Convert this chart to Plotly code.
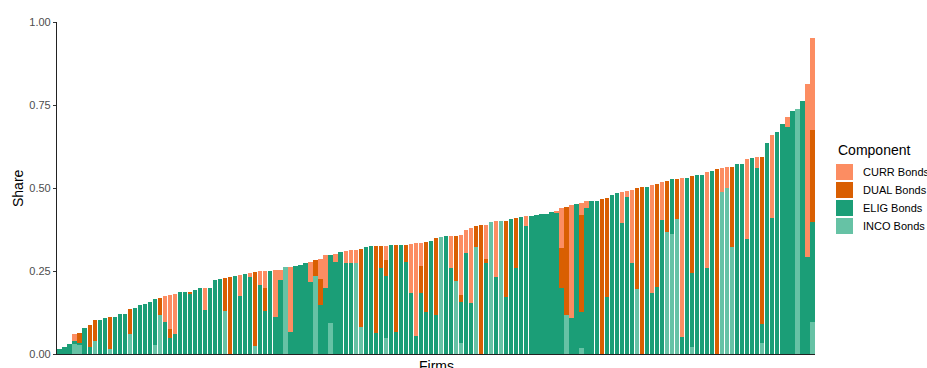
import plotly.graph_objects as go

# Component shares per firm (stack order bottom -> top: INCO, ELIG, DUAL, CURR)
INCO = [0, 0, 0, 0.03, 0.03, 0, 0, 0.04, 0, 0,
        0.015, 0, 0, 0, 0.06, 0, 0, 0, 0, 0.027,
        0.117, 0, 0, 0, 0, 0, 0, 0, 0, 0,
        0, 0, 0, 0.13, 0, 0, 0, 0, 0, 0.025,
        0, 0, 0, 0, 0, 0.261, 0, 0, 0, 0,
        0, 0.236, 0, 0, 0.094, 0, 0, 0, 0, 0.273,
        0.082, 0, 0, 0, 0, 0.047, 0, 0, 0, 0,
        0, 0, 0, 0, 0, 0, 0.351, 0, 0, 0.22,
        0.032, 0, 0, 0.323, 0, 0, 0.399, 0, 0.401, 0,
        0, 0, 0, 0, 0, 0, 0, 0, 0, 0,
        0, 0.117, 0, 0, 0.017, 0, 0, 0, 0, 0,
        0, 0, 0, 0, 0, 0.195, 0, 0, 0, 0,
        0, 0.368, 0.36, 0.407, 0, 0, 0.022, 0, 0, 0,
        0, 0, 0.487, 0.499, 0.321, 0, 0, 0, 0, 0,
        0.032, 0, 0, 0, 0, 0, 0, 0.737, 0, 0,
        0.097]
ELIG = [0.014, 0.02, 0.03, 0.01, 0.004, 0.077, 0.022, 0, 0.102, 0.107,
        0, 0.112, 0.12, 0.122, 0, 0.14, 0.147, 0.15, 0.158, 0.138,
        0, 0.095, 0.047, 0.06, 0.186, 0.186, 0.18, 0.193, 0.198, 0.132,
        0.2, 0.223, 0.226, 0, 0, 0.236, 0.176, 0.24, 0.233, 0,
        0.208, 0.13, 0.251, 0.112, 0.223, 0, 0.067, 0.265, 0.268, 0.273,
        0.216, 0, 0.148, 0.2, 0.204, 0.278, 0.308, 0.273, 0.273, 0,
        0, 0.323, 0.325, 0.062, 0.258, 0.188, 0.328, 0.067, 0.328, 0.278,
        0.183, 0.054, 0.183, 0.128, 0.341, 0.117, 0, 0.355, 0.258, 0,
        0.126, 0.305, 0.155, 0, 0, 0.273, 0, 0.233, 0, 0.173,
        0.406, 0.258, 0.412, 0.387, 0.417, 0.418, 0.421, 0.422, 0.429, 0.424,
        0.198, 0, 0.107, 0.452, 0.111, 0.44, 0.46, 0.462, 0, 0.173,
        0.479, 0.484, 0.394, 0.474, 0.275, 0, 0, 0.504, 0.183, 0.203,
        0.404, 0, 0.166, 0, 0.052, 0.531, 0.221, 0.539, 0.539, 0.26,
        0.551, 0, 0, 0, 0, 0.571, 0.571, 0.345, 0.591, 0.559,
        0.058, 0.636, 0.411, 0.669, 0.693, 0.685, 0.733, 0, 0.762, 0.291,
        0.302]
DUAL = [0, 0, 0, 0, 0.028, 0, 0.065, 0.062, 0, 0,
        0.095, 0, 0, 0, 0.075, 0, 0, 0, 0, 0,
        0.052, 0, 0.028, 0, 0, 0, 0.007, 0, 0, 0,
        0, 0, 0, 0.1, 0.233, 0, 0, 0, 0, 0.221,
        0, 0.07, 0, 0, 0, 0, 0, 0, 0, 0,
        0, 0.047, 0.078, 0, 0, 0, 0, 0, 0, 0,
        0.233, 0, 0, 0.263, 0.067, 0.048, 0, 0.261, 0, 0.05,
        0, 0, 0.082, 0.21, 0, 0.231, 0, 0, 0, 0.136,
        0.02, 0, 0, 0.063, 0.388, 0.012, 0, 0, 0, 0.229,
        0, 0.151, 0, 0, 0, 0, 0, 0, 0, 0,
        0.12, 0.327, 0, 0, 0.291, 0, 0, 0, 0.466, 0.298,
        0, 0, 0, 0, 0, 0.304, 0.502, 0, 0, 0.308,
        0, 0.154, 0, 0.119, 0, 0, 0.293, 0, 0, 0,
        0, 0.556, 0, 0, 0.243, 0, 0, 0, 0, 0,
        0.504, 0, 0, 0, 0, 0, 0, 0, 0, 0,
        0.276]
CURR = [0, 0, 0, 0.02, 0, 0, 0, 0, 0, 0,
        0, 0, 0, 0, 0, 0, 0, 0, 0, 0,
        0, 0.08, 0.103, 0.121, 0, 0, 0, 0, 0, 0.068,
        0, 0, 0, 0, 0, 0, 0.062, 0, 0.01, 0,
        0.041, 0.05, 0, 0.141, 0.03, 0, 0.194, 0, 0, 0,
        0.06, 0, 0.06, 0.098, 0, 0.023, 0, 0.038, 0.04, 0.04,
        0, 0, 0, 0, 0, 0.042, 0, 0, 0, 0,
        0.148, 0.279, 0.07, 0, 0, 0, 0, 0, 0.097, 0,
        0.18, 0.07, 0.224, 0, 0, 0.103, 0, 0.167, 0, 0,
        0, 0, 0, 0.03, 0, 0, 0, 0, 0, 0.007,
        0.121, 0, 0.342, 0, 0.037, 0.02, 0, 0, 0, 0,
        0, 0, 0.095, 0.017, 0.219, 0, 0, 0, 0.326, 0,
        0.115, 0, 0, 0, 0.479, 0, 0, 0, 0, 0.287,
        0, 0, 0.074, 0.065, 0, 0, 0, 0.241, 0, 0.033,
        0, 0, 0.249, 0, 0, 0.028, 0, 0, 0, 0.521,
        0.278]

firms = list(range(1, len(ELIG) + 1))

components = ["CURR Bonds", "DUAL Bonds", "ELIG Bonds", "INCO Bonds"]
colors = {"CURR Bonds": "#FC8D62", "DUAL Bonds": "#D95F02",
          "ELIG Bonds": "#1B9E77", "INCO Bonds": "#66C2A5"}
series = {"INCO Bonds": INCO, "ELIG Bonds": ELIG, "DUAL Bonds": DUAL, "CURR Bonds": CURR}

y_ticks = [0, 0.25, 0.5, 0.75, 1.0]
y_tick_labels = ["0.00", "0.25", "0.50", "0.75", "1.00"]

fig = go.Figure()
for name in ["INCO Bonds", "ELIG Bonds", "DUAL Bonds", "CURR Bonds"]:
    fig.add_bar(x=firms, y=series[name], name=name, showlegend=False,
                marker=dict(color=colors[name], line=dict(width=0)))

FONT = "Liberation Sans, Arial, Helvetica, sans-serif"
fig.update_layout(
    barmode="stack", bargap=0.15,
    width=927, height=368,
    margin=dict(l=57, r=112, t=22, b=14),
    plot_bgcolor="white", paper_bgcolor="white",
    font=dict(family=FONT, color="black"),
)
fig.update_xaxes(range=[0.5, len(firms) + 0.5], showticklabels=False, ticks="",
                 showline=True, linecolor="#222222", linewidth=1.1,
                 showgrid=False, zeroline=False, automargin=False)
fig.update_yaxes(range=[0, 1.0], tickvals=y_ticks, ticktext=y_tick_labels,
                 ticks="outside", ticklen=3, tickcolor="#333333", tickwidth=1,
                 tickfont=dict(size=11, color="#4D4D4D", family=FONT),
                 showline=True, linecolor="#222222", linewidth=1.1,
                 showgrid=False, zeroline=False, automargin=False)

PW, PH = 758.0, 332.0
def px_x(px):
    return (px - 57) / PW
def px_y(py):
    return (354 - py) / PH

# axis titles
fig.add_annotation(text="Share", xref="paper", yref="paper", x=px_x(18), y=0.5,
                   textangle=-90, showarrow=False, font=dict(size=14, color="black"),
                   xanchor="center", yanchor="middle")
fig.add_annotation(text="Firms", xref="paper", yref="paper", x=0.5, y=0,
                   yshift=-2, showarrow=False, font=dict(size=14, color="black"),
                   xanchor="center", yanchor="top")

# legend (drawn manually, ggplot-style)
fig.add_annotation(text="Component", xref="paper", yref="paper", x=px_x(836), y=px_y(150),
                   showarrow=False, font=dict(size=14, color="black"),
                   xanchor="left", yanchor="middle")
key_tops = [164, 182, 200, 218]
for name, top in zip(components, key_tops):
    fig.add_shape(type="rect", xref="paper", yref="paper",
                  x0=px_x(836), x1=px_x(853), y0=px_y(top + 16), y1=px_y(top),
                  fillcolor=colors[name], line=dict(width=0))
    fig.add_annotation(text=name, xref="paper", yref="paper", x=px_x(861), y=px_y(top + 8),
                       showarrow=False, font=dict(size=11, color="black"),
                       xanchor="left", yanchor="middle")

fig.write_html("out.html", config={"displayModeBar": False},
               post_script="document.body.style.margin='0';document.body.style.overflow='hidden';")
